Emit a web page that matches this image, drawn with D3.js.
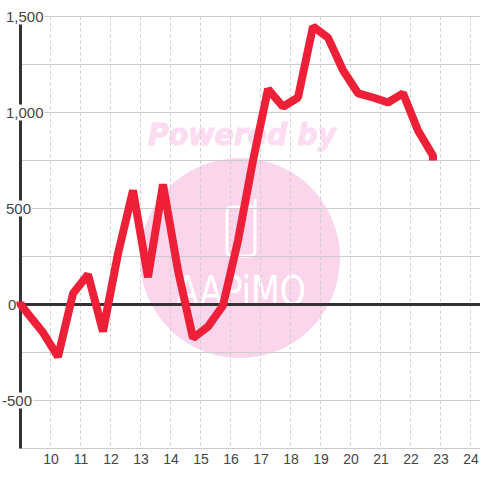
<!DOCTYPE html>
<html>
<head>
<meta charset="utf-8">
<script src="https://cdn.jsdelivr.net/npm/d3@7/dist/d3.min.js"></script>
<style>
  html, body { margin: 0; padding: 0; background: #fff; }
  svg { display: block; }
  text { font-family: "Liberation Sans", sans-serif; fill: #444; }
</style>
</head>
<body>
<svg id="frame" width="480" height="480"></svg>
<script>
// hour of day. first and last hour repeat, the line starts and stops vertically
const hours = [9, 9, 9.75, 10.25, 10.75, 11.25, 11.75, 12.25, 12.75, 13.25, 13.75, 14.25, 14.75,
	15.25, 15.75, 16.25, 16.75, 17.25, 17.75, 18.25, 18.75, 19.25, 19.75, 20.25, 20.75,
	21.25, 21.75, 22.25, 22.75, 22.75];
const values = [15, 0, -146, -272, 57, 156, -140, 265, 594, 142, 625, 177, -175,
	-115, -5, 333, 750, 1122, 1030, 1078, 1448, 1390, 1220, 1100, 1078,
	1052, 1100, 906, 775, 750];
const xTicks = [10, 11, 12, 13, 14, 15, 16, 17, 18, 19, 20, 21, 22, 23, 24];
const yTicks = [1500, 1000, 500, 0, -500];
const yGrid = [1500, 1250, 1000, 750, 500, 250, -250, -500, -750];

const x = d3.scaleLinear().domain([9, 24.3]).range([20.5, 479.5]);
const y = d3.scaleLinear().domain([1500, -750]).range([16.5, 448.5]);

const svg = d3.select("#frame");

// watermark sits under everything else
const mark = svg.append("g");
mark.append("circle").attr("cx", 240).attr("cy", 258).attr("r", 100).attr("fill", "#fbd5ec");
mark.append("text")
	.attr("x", 148).attr("y", 145)
	.attr("textLength", 188).attr("lengthAdjust", "spacingAndGlyphs")
	.style("font-family", "DejaVu Sans")
	.style("font-weight", "bold").style("font-style", "italic")
	.style("font-size", "30px").style("fill", "#fcdcf0")
	.style("stroke", "#fcdcf0").style("stroke-width", 1)
	.text("Powered by");
mark.append("path")
	.attr("d", "M255 199V251Q255 256 250 256H232Q227 256 227 251V212Q227 207 232 207H255")
	.attr("fill", "none").attr("stroke", "#fff").attr("stroke-width", 3);
mark.append("text")
	.attr("x", 176).attr("y", 305)
	.attr("textLength", 130).attr("lengthAdjust", "spacingAndGlyphs")
	.style("font-family", "DejaVu Sans")
	.style("font-size", "40px").style("fill", "#fff")
	.text("AAPiMO");

// grid
svg.append("g").selectAll("line").data(yGrid).join("line")
	.attr("x1", 20).attr("x2", 480)
	.attr("y1", d => y(d)).attr("y2", d => y(d))
	.attr("stroke", "#ccc");
svg.append("g").selectAll("line").data(xTicks).join("line")
	.attr("x1", d => x(d)).attr("x2", d => x(d))
	.attr("y1", y(1500)).attr("y2", y(-750))
	.attr("stroke", "#ccc").attr("stroke-dasharray", "3,3");

// zero line and left axis
svg.append("line").attr("x1", 20).attr("x2", 480)
	.attr("y1", y(0)).attr("y2", y(0))
	.attr("stroke", "#333").attr("stroke-width", 3);
svg.append("line").attr("x1", 20.5).attr("x2", 20.5)
	.attr("y1", y(1500)).attr("y2", y(-750))
	.attr("stroke", "#333").attr("stroke-width", 3);

// x axis labels
const xAxis = d3.axisBottom(x).tickValues(xTicks).tickSize(0).tickPadding(6);
svg.append("g").attr("transform", `translate(0,${y(-750)})`).call(xAxis)
	.call(g => g.select(".domain").remove())
	.selectAll("text").style("font-size", "14px").style("font-family", "Liberation Sans").style("fill", "#444");

// y axis labels, each with a white plate that interrupts the axis
const yLabels = svg.append("g").selectAll("g").data(yTicks).join("g")
	.attr("transform", d => `translate(${d < 0 ? 2 : d === 0 ? 8 : 6},${y(d)})`);
yLabels.append("rect").attr("fill", "#fff");
yLabels.append("text").attr("dy", "0.35em").style("font-size", "15px")
	.text(d => d3.format(",")(d).replace("\u2212", "-"));
yLabels.each(function () {
	const g = d3.select(this);
	const b = g.select("text").node().getBBox();
	g.select("rect").attr("x", -2).attr("y", -8).attr("width", b.width + 3).attr("height", 16);
});

// the series
const line = d3.line().x((d, i) => x(hours[i])).y(d => y(d));
svg.append("path").datum(values)
	.attr("d", line)
	.attr("fill", "none")
	.attr("stroke", "#ee2038")
	.attr("stroke-width", 8)
	.attr("stroke-linejoin", "bevel");
</script>
</body>
</html>
